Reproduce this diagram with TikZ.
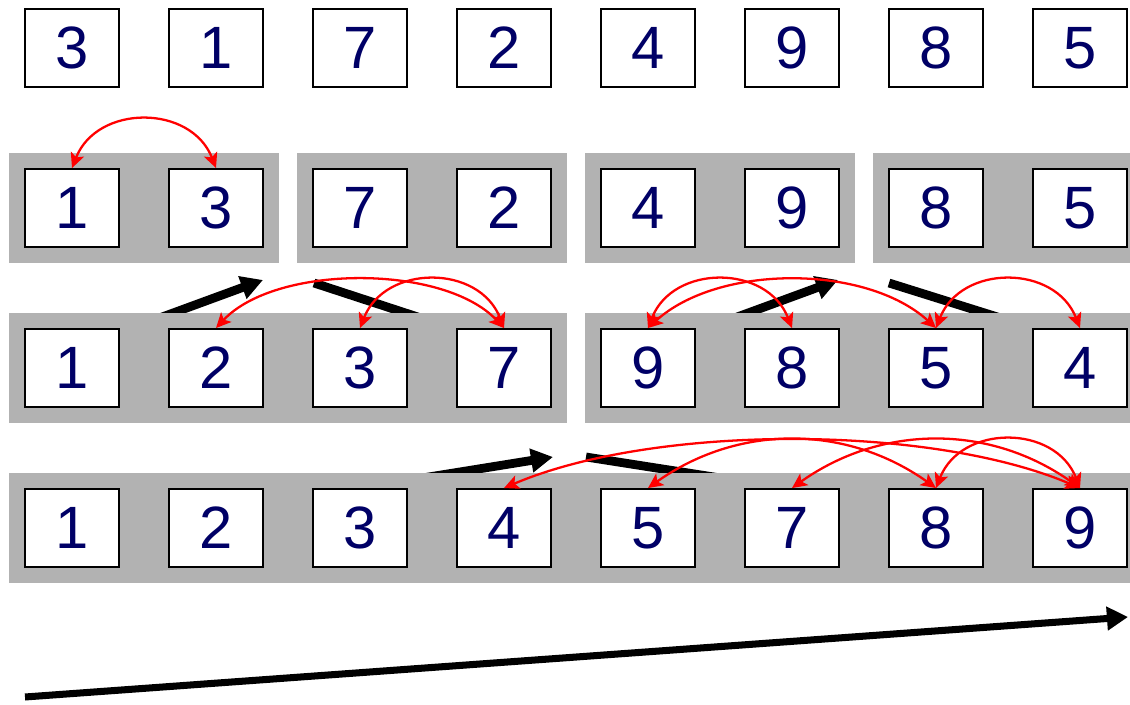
\documentclass[tikz,border=0pt]{standalone}
\usepackage{fontspec}
\setmainfont{Liberation Sans}
\usetikzlibrary{positioning,fit,arrows.meta,backgrounds}
\definecolor{digitBlue}{RGB}{0,0,102}
\definecolor{bandGray}{RGB}{178,178,178}
\definecolor{swapRed}{RGB}{255,0,0}

\begin{document}
\begin{tikzpicture}[
  x=0.02cm, y=0.02cm,
  cell/.style={draw=black,fill=white,line width=1.1pt,
               minimum width=1.88cm,minimum height=1.56cm,inner sep=0pt,
               text=digitBlue,font=\fontsize{34}{40}\selectfont},
  band/.style={fill=bandGray,inner sep=0.3cm},
  xchg/.style={{Stealth[length=8.5pt,width=8pt,inset=2pt]}-{Stealth[length=8.5pt,width=8pt,inset=2pt]},
               draw=swapRed,line width=1.3pt},
  trend/.style={line width=5pt,-{Triangle[length=12.5pt,width=13pt]}},
  trendline/.style={line width=5pt}
]
\useasboundingbox (0,0) rectangle (1130,-705);
\clip (0,0) rectangle (1130,-705);

% ==========  Rows of cells  ==========
\foreach \v [count=\i] in {3,1,7,2,4,9,8,5}
  \node[cell] (a\i) at ({72+144*(\i-1)},-48) {\v};
\foreach \v [count=\i] in {1,3,7,2,4,9,8,5}
  \node[cell] (b\i) at ({72+144*(\i-1)},-208) {\v};
\foreach \v [count=\i] in {1,2,3,7,9,8,5,4}
  \node[cell] (c\i) at ({72+144*(\i-1)},-368) {\v};
\foreach \v [count=\i] in {1,2,3,4,5,7,8,9}
  \node[cell] (d\i) at ({72+144*(\i-1)},-528) {\v};

% ==========  Trend arrows (behind the bands)  ==========
\coordinate (up1s) at (154,-320);  \coordinate (up1e) at (263,-280);
\coordinate (dn1s) at (314,-283);  \coordinate (dn1e) at (430,-321);
\coordinate (up2s) at (729,-320);  \coordinate (up2e) at (838,-280);
\coordinate (dn2s) at (889,-283);  \coordinate (dn2e) at (1007,-320);
\coordinate (up3s) at (410,-480);  \coordinate (up3e) at (553,-457);
\coordinate (dn3s) at (586,-457);  \coordinate (dn3e) at (733,-480);

\begin{pgfonlayer}{background}
  \draw[trend]     (up1s) -- (up1e);
  \draw[trendline] (dn1s) -- (dn1e);
  \draw[trend]     (up2s) -- (up2e);
  \draw[trendline] (dn2s) -- (dn2e);
  \draw[trend]     (up3s) -- (up3e);
  \draw[trendline] (dn3s) -- (dn3e);
  % bands
  \node[band,fit=(b1)(b2)] (bb1) {};
  \node[band,fit=(b3)(b4)] (bb2) {};
  \node[band,fit=(b5)(b6)] (bb3) {};
  \node[band,fit=(b7)(b8)] (bb4) {};
  \node[band,fit=(c1)(c4)] (cb1) {};
  \node[band,fit=(c5)(c8)] (cb2) {};
  \node[band,fit=(d1)(d8)] (db1) {};
\end{pgfonlayer}

% ==========  Exchanges  ==========
\foreach \p/\q/\d in {b1/b2/25,
                      c2/c4/60, c3/c4/25,
                      c5/c6/25, c5/c7/70, c7/c8/25,
                      d4/d8/150, d5/d7/90, d6/d8/90, d7/d8/25}
  \draw[xchg] (\p.north) .. controls +(\d,64) and +(-\d,64) .. (\q.north);

% ==========  Overall direction  ==========
\coordinate (dirs) at (25,-697);
\coordinate (dire) at (1128,-617);
\draw[line width=4pt,-{Triangle[length=12pt,width=13pt]}] (dirs) -- (dire);

\end{tikzpicture}
\end{document}
